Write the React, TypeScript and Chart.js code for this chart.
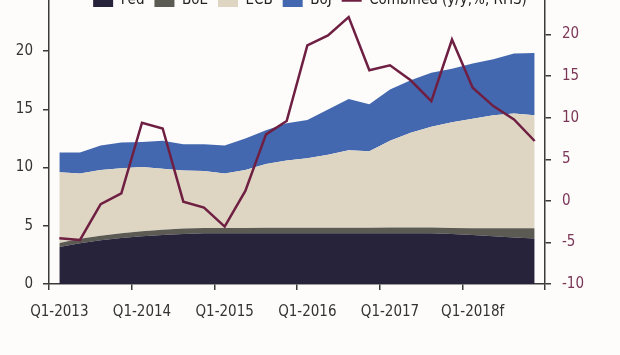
import React, { useEffect, useRef } from 'react';
import { Chart, registerables } from 'chart.js';

Chart.register(...registerables);

const quarters = [
  'Q1-2013', 'Q2-2013', 'Q3-2013', 'Q4-2013',
  'Q1-2014', 'Q2-2014', 'Q3-2014', 'Q4-2014',
  'Q1-2015', 'Q2-2015', 'Q3-2015', 'Q4-2015',
  'Q1-2016', 'Q2-2016', 'Q3-2016', 'Q4-2016',
  'Q1-2017', 'Q2-2017', 'Q3-2017', 'Q4-2017',
  'Q1-2018f', 'Q2-2018f', 'Q3-2018f', 'Q4-2018f',
];

const fed = [3.17, 3.5, 3.75, 3.95, 4.1, 4.2, 4.3, 4.35, 4.35, 4.35, 4.35, 4.35, 4.35, 4.35, 4.35, 4.35, 4.35, 4.35, 4.35, 4.3, 4.2, 4.1, 4.0, 3.9];
const boe = [0.35, 0.38, 0.4, 0.42, 0.44, 0.45, 0.46, 0.46, 0.47, 0.47, 0.48, 0.48, 0.48, 0.48, 0.48, 0.48, 0.5, 0.5, 0.5, 0.52, 0.58, 0.68, 0.78, 0.9];
const ecb = [6.08, 5.62, 5.65, 5.58, 5.51, 5.25, 4.99, 4.89, 4.68, 4.98, 5.47, 5.77, 5.97, 6.27, 6.67, 6.57, 7.45, 8.15, 8.65, 9.08, 9.42, 9.72, 9.87, 9.7];
const boj = [1.7, 1.8, 2.1, 2.2, 2.15, 2.4, 2.25, 2.3, 2.4, 2.7, 2.9, 3.2, 3.3, 3.9, 4.4, 4.05, 4.4, 4.5, 4.65, 4.6, 4.75, 4.8, 5.15, 5.35];
const combined = [-4.5, -4.7, -0.4, 0.9, 9.4, 8.7, -0.1, -0.8, -3.1, 1.2, 8.0, 9.6, 18.7, 19.9, 22.1, 15.7, 16.3, 14.5, 12.0, 19.4, 13.6, 11.4, 9.8, 7.2];

const seriesNames = ['Fed', 'BoE', 'ECB', 'BoJ', 'Combined (y/y,%, RHS)'];
const leftRange = [0, 25];
const rightRange = [-10, 25];

const FONT = "'DejaVu Sans Condensed', 'DejaVu Sans', sans-serif";
const AXIS = '#3a3a3a';

export default function App() {
  const ref = useRef<HTMLCanvasElement | null>(null);

  useEffect(() => {
    document.documentElement.style.overflow = 'hidden';
    document.body.style.background = '#fdfcfa';
    const canvas = ref.current;
    if (!canvas) return;

    const shiftLegend = {
      id: 'shiftLegend',
      afterLayout(chart: any) {
        const lg = chart.legend;
        if (lg) {
          lg.top += 25;
          lg.bottom += 25;
        }
      },
    };

    const area = (label: string, data: number[], color: string, fill: any) => ({
      label,
      data,
      yAxisID: 'y',
      backgroundColor: color,
      borderColor: color,
      borderWidth: 0,
      pointRadius: 0,
      pointStyle: 'rect',
      fill,
      order: 1,
    });

    const chart = new Chart(canvas, {
      type: 'line',
      data: {
        labels: quarters,
        datasets: [
          area(seriesNames[0], fed, '#27233a', 'origin'),
          area(seriesNames[1], boe, '#5c5b53', '-1'),
          area(seriesNames[2], ecb, '#ded5c3', '-1'),
          area(seriesNames[3], boj, '#4468b0', '-1'),
          {
            label: seriesNames[4],
            data: combined,
            yAxisID: 'y1',
            borderColor: '#6e1f42',
            backgroundColor: '#6e1f42',
            borderWidth: 2.5,
            pointRadius: 0,
            pointStyle: 'line',
            tension: 0,
            fill: false,
            order: 0,
          } as any,
        ],
      },
      options: {
        responsive: false,
        animation: false,
        layout: { padding: 0 },
        font: { family: FONT } as any,
        plugins: {
          tooltip: { enabled: false },
          legend: {
            position: 'top',
            labels: {
              usePointStyle: true,
              pointStyleWidth: 20,
              boxHeight: 13,
              padding: 10,
              color: '#222',
              font: { family: FONT, size: 15 },
              sort: (a: any, b: any) => a.datasetIndex - b.datasetIndex,
            },
          },
        },
        scales: {
          x: {
            type: 'category',
            offset: true,
            afterFit: (s: any) => { s.height = 71; },
            grid: {
              offset: true,
              drawOnChartArea: false,
              drawTicks: true,
              tickLength: 6,
              lineWidth: 1.5,
              color: (ctx: any) => (ctx.index === undefined || ctx.index % 4 === 0 ? AXIS : 'rgba(0,0,0,0)'),
            },
            border: { color: AXIS, width: 1.5 },
            ticks: {
              autoSkip: false,
              maxRotation: 0,
              padding: 13,
              color: '#333',
              font: { family: FONT, size: 15 },
              callback: (_v: any, i: number) => (i % 4 === 0 ? quarters[i] : ''),
            },
          },
          y: {
            position: 'left',
            stacked: true,
            min: leftRange[0],
            max: leftRange[1],
            afterFit: (s: any) => { s.width = 49; },
            grid: { drawOnChartArea: false, tickLength: 6, color: AXIS, lineWidth: 1.5 },
            border: { color: AXIS, width: 1.5 },
            ticks: { stepSize: 5, padding: 10, color: '#333', font: { family: FONT, size: 15 } },
          },
          y1: {
            position: 'right',
            min: rightRange[0],
            max: rightRange[1],
            afterFit: (s: any) => { s.width = 75; },
            grid: { drawOnChartArea: false, tickLength: 6, color: AXIS, lineWidth: 1.5 },
            border: { color: AXIS, width: 1.5 },
            ticks: { stepSize: 5, padding: 11, color: '#7b3657', font: { family: FONT, size: 15 } },
          },
        },
      } as any,
      plugins: [shiftLegend],
    });

    return () => chart.destroy();
  }, []);

  return (
    <div style={{ position: 'fixed', left: 0, top: -42, width: 620, height: 397 }}>
      <canvas ref={ref} width={620} height={397} style={{ display: 'block', width: 620, height: 397 }} />
    </div>
  );
}
